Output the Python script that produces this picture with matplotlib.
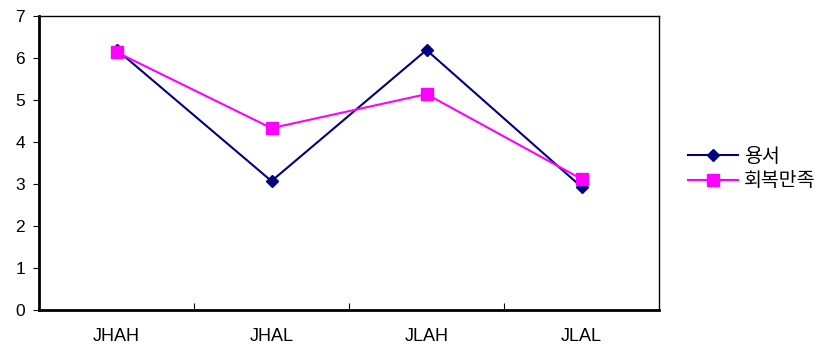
import matplotlib
matplotlib.use("Agg")
from matplotlib import pyplot as plt

categories = ["JHAH", "JHAL", "JLAH", "JLAL"]
forgiveness = [6.2, 3.07, 6.19, 2.93]      # 용서
recovery = [6.14, 4.33, 5.14, 3.12]        # 회복만족
series_names = ["용서", "회복만족"]

plt.rcParams['font.family'] = ['Liberation Sans', 'Noto Sans CJK KR', 'DejaVu Sans']

fig = plt.figure(figsize=(8.35, 3.47), dpi=100)
ax = fig.add_axes([39/835, 1 - 310/347, 620/835, 294/347])

x = range(len(categories))
ax.plot(x, forgiveness, color="#000080", marker="D", markersize=6, linewidth=1.5,
        label=series_names[0])
ax.plot(x, recovery, color="#FF00FF", marker="s", markersize=8, linewidth=1.5,
        label=series_names[1])

ax.set_xlim(-0.5, 3.5)
ax.set_ylim(0, 7)
ax.set_yticks(range(0, 8))
ax.tick_params(axis="y", direction="out", length=4, labelsize=12.5, pad=6)

# category labels in the middle, tick marks between categories
ax.set_xticks([0.5, 1.5, 2.5])
ax.set_xticklabels([])
ax.tick_params(axis="x", direction="in", length=5)
ax.set_xticks(list(x), minor=True)
ax.set_xticklabels(categories, minor=True, fontsize=13)
ax.tick_params(axis="x", which="minor", length=0, pad=13)

for side in ["left", "bottom"]:
    ax.spines[side].set_linewidth(2)
for side in ["top", "right"]:
    ax.spines[side].set_linewidth(1)

leg = fig.legend(loc="upper left", bbox_to_anchor=(670/835, 1 - 130/347),
                 frameon=False, fontsize=14, handlelength=2.6, handletextpad=0.3,
                 labelspacing=0.35)

plt.savefig("out.png")
